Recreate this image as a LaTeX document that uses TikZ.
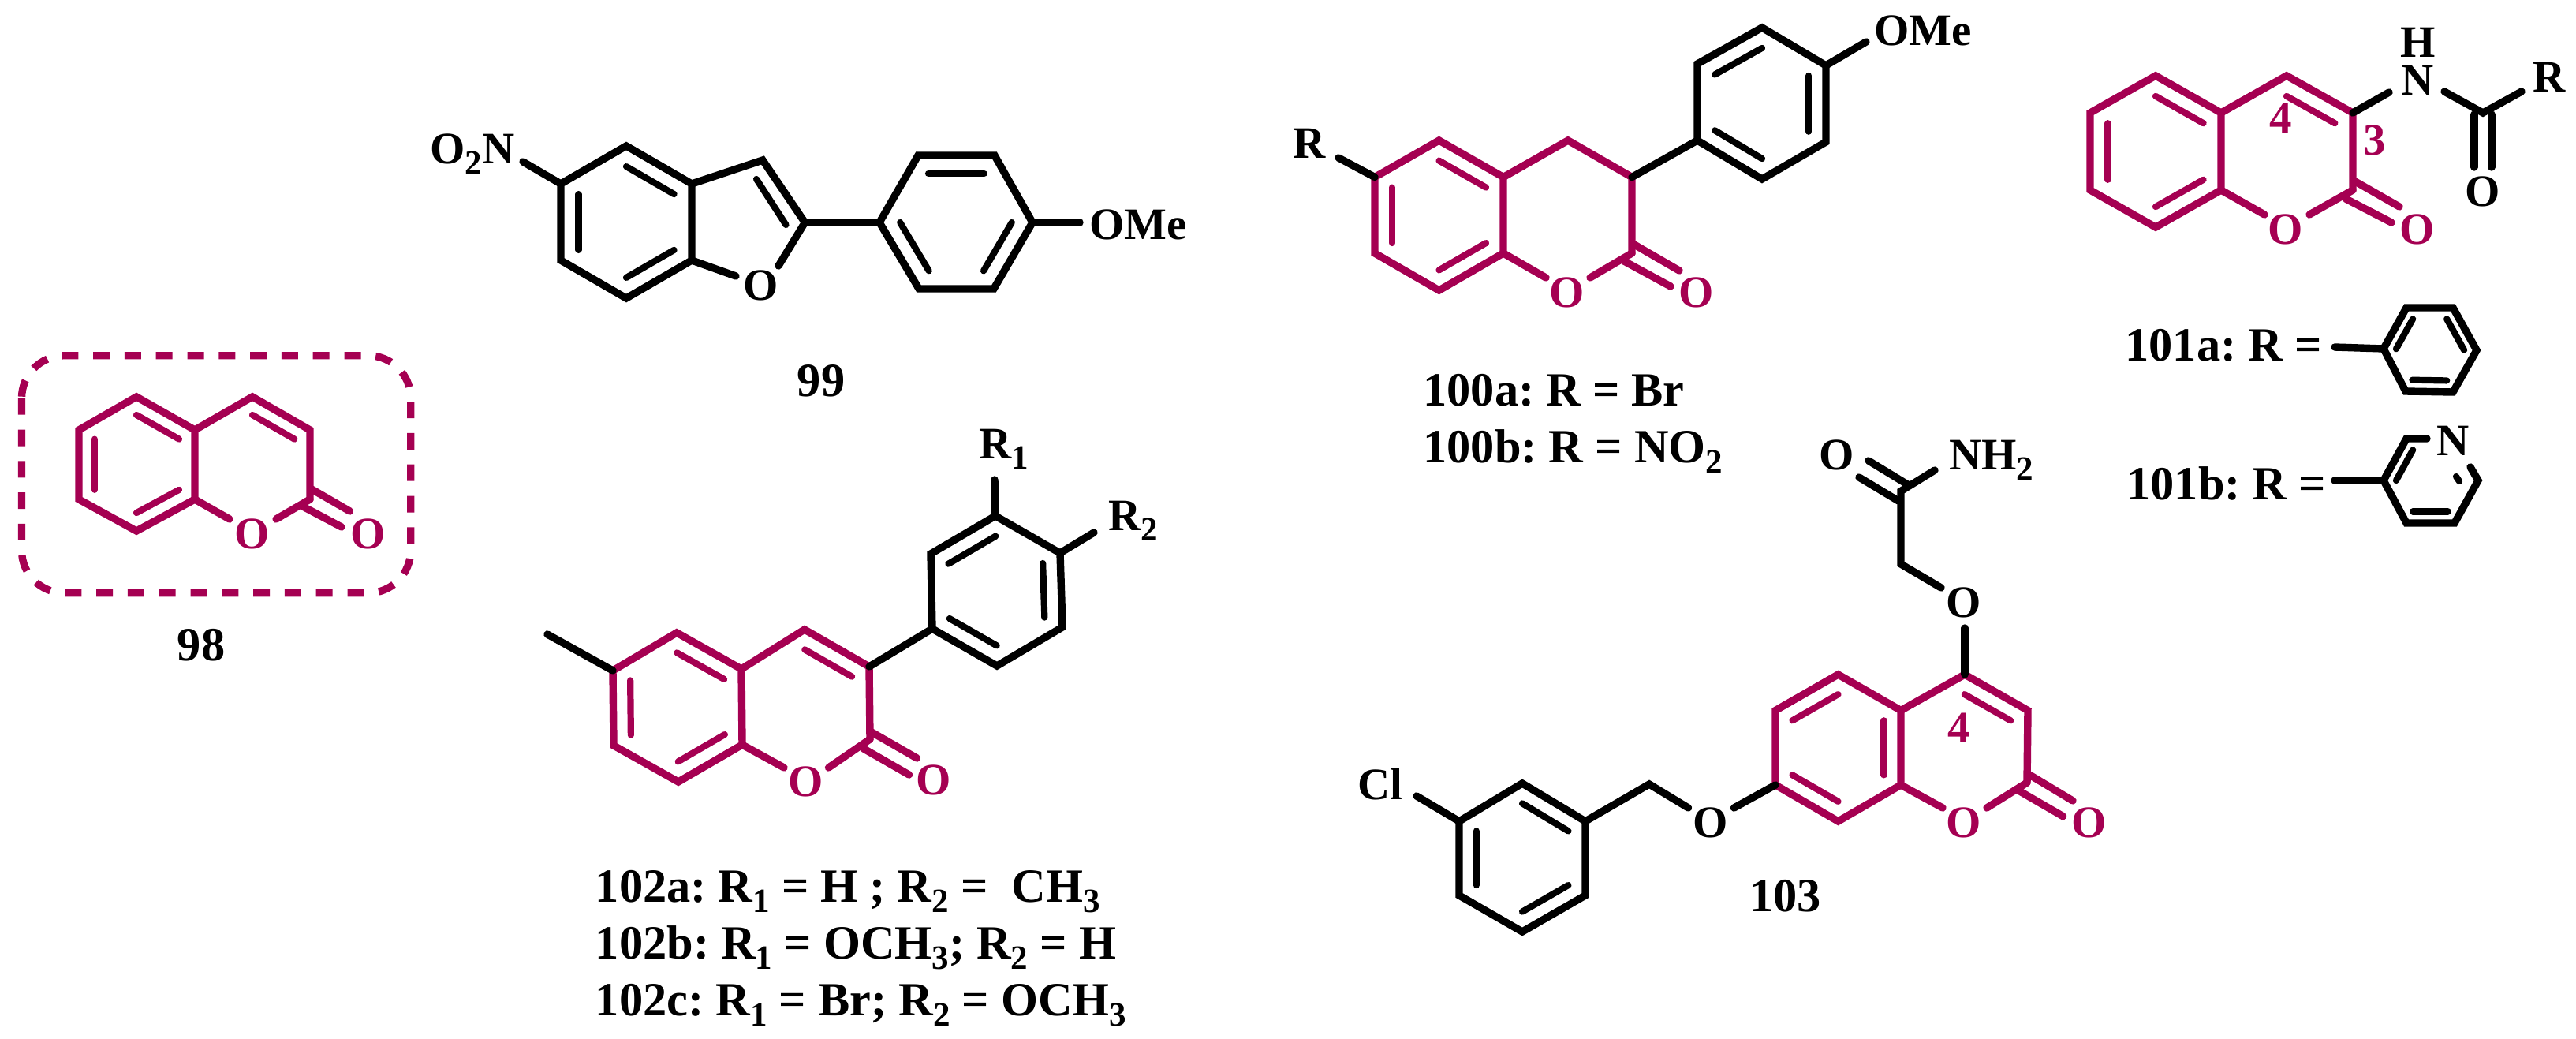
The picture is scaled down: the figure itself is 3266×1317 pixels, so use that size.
\documentclass[tikz,border=0pt]{standalone}
\usepackage{fontspec}
\setmainfont{Liberation Serif}[BoldFont={Liberation Serif Bold}]
\usetikzlibrary{calc}
\definecolor{coum}{HTML}{A50052}
\newcommand\CC[3]{\coordinate (#1) at (#2,#3);}
\newcommand\inn[3]{\draw[innerb] ($(#1)!.27!(#3)$) -- ($(#2)!.27!(#3)$);}
\newcommand\sbs[1]{\raisebox{-6.5pt}{\fontsize{21.5}{21.5}\selectfont #1}}
\frenchspacing
\tikzset{
  x=0.5pt,y=-0.5pt,
  bondl/.style={line width=4.7pt,line cap=round,line join=miter},
  innerb/.style={line width=4.1pt,line cap=round},
  atom/.style={inner sep=0pt,font=\fontsize{28.5}{28.5}\selectfont\bfseries,anchor=center},
  lab/.style={inner sep=0pt,font=\frenchspacing\fontsize{30.2}{30.2}\selectfont\bfseries,anchor=base west},
}
\begin{document}
\begin{tikzpicture}
\useasboundingbox (0,0) rectangle (3266,1317);
% ---------- 98
\begin{scope}[coum,bondl]
\draw[line width=4.7pt,line cap=butt,dash pattern=on 10.5pt off 9.4pt,rounded corners=27pt] (27.5,450.7) rectangle (520.7,751.7);
\CC{Aa}{173}{503}\CC{Ab}{247}{545}\CC{Ac}{247}{633}\CC{Ad}{173}{673}\CC{Ae}{100}{633}\CC{Af}{100}{545}
\CC{Ag}{320}{503}\CC{Ah}{393}{545}\CC{Ai}{393}{633}
\CC{Aq}{173}{588}\CC{Ar}{320}{588}
\node[atom] (AO1) at (320,677) {O};
\node[atom] (AO2) at (467,677) {O};
\CC{Aj}{291}{658}\CC{Ak}{350}{658}
\draw (Aa)--(Ab)--(Ac)--(Ad)--(Ae)--(Af)--cycle;
\draw (Ab)--(Ag)--(Ah)--(Ai);
\draw (Ac)--(Aj);\draw (Ak)--(Ai);
\inn{Aa}{Ab}{Aq}\inn{Ae}{Af}{Aq}\inn{Ac}{Ad}{Aq}\inn{Ag}{Ah}{Ar}
\CC{Am}{395}{620}\CC{An}{443.5}{648}\CC{Ao}{384}{642}\CC{Ap}{433}{668}
\draw (Am)--(An);\draw (Ao)--(Ap);
\end{scope}
\node[atom] (L98) at (255,818) {\fontsize{30.2}{30.2}\selectfont 98};
% ---------- 99
\begin{scope}[bondl]
\CC{Ba}{794}{185}\CC{Bb}{877}{233}\CC{Bc}{877}{330}\CC{Bd}{794}{378}\CC{Be}{711}{330}\CC{Bf}{711}{233}
\CC{Bg}{967}{203}\CC{Bh}{1020.5}{282}\CC{Bq}{794}{281.5}\CC{Br}{945}{280}
\node[atom] (BO) at (965,362) {O};
\CC{Bj}{933}{350}\CC{Bk}{987}{337}\CC{Bn}{663}{205}
\draw (Ba)--(Bb)--(Bc)--(Bd)--(Be)--(Bf)--cycle;
\draw (Bb)--(Bg)--(Bh)--(Bk);\draw (Bc)--(Bj);\draw (Bf)--(Bn);
\inn{Ba}{Bb}{Bq}\inn{Be}{Bf}{Bq}\inn{Bc}{Bd}{Bq}
\CC{Bs}{959}{227}\CC{Bt}{996.5}{285}\draw[innerb] (Bs)--(Bt);
\CC{Bu}{1115}{282}\CC{Bv}{1164}{197}\CC{Bw}{1261}{197}\CC{Bx}{1309}{282}\CC{By}{1260}{366}\CC{Bz}{1165}{366}\CC{Bp}{1212}{282}
\draw (Bh)--(Bu);
\draw (Bu)--(Bv)--(Bw)--(Bx)--(By)--(Bz)--cycle;
\inn{Bv}{Bw}{Bp}\inn{Bx}{By}{Bp}\inn{Bz}{Bu}{Bp}
\CC{Bo}{1369}{282}\draw (Bx)--(Bo);
\end{scope}
\node[lab] (BNO) at (545,207) {\fontsize{28.5}{28.5}\selectfont O\sbs{2}N};
\node[lab] (BOMe) at (1381,303) {\fontsize{28.5}{28.5}\selectfont OMe};
\node[atom] (L99) at (1041,483) {\fontsize{30.2}{30.2}\selectfont 99};
% ---------- 100
\begin{scope}[coum,bondl]
\CC{Ca}{1824.5}{178}\CC{Cb}{1906}{224.5}\CC{Cc}{1906}{321}\CC{Cd}{1824.5}{368}\CC{Ce}{1743}{321}\CC{Cf}{1743}{224.5}
\CC{Cg}{1988}{178}\CC{Ch}{2069}{224.5}\CC{Ci}{2069}{321}\CC{Cq}{1824.5}{273}
\node[atom] (CO1) at (1987,371) {O};
\node[atom] (CO2) at (2151,371) {O};
\CC{Cj}{1960}{352}\CC{Ck}{2016}{352}
\draw (Ca)--(Cb)--(Cc)--(Cd)--(Ce)--(Cf)--cycle;
\draw (Cb)--(Cg)--(Ch)--(Ci);\draw (Cc)--(Cj);\draw (Ck)--(Ci);
\inn{Ca}{Cb}{Cq}\inn{Ce}{Cf}{Cq}\inn{Cc}{Cd}{Cq}
\CC{Cm}{2072}{310}\CC{Cn}{2129}{343}\CC{Co}{2059}{331}\CC{Cp}{2118}{363}
\draw (Cm)--(Cn);\draw (Co)--(Cp);
\end{scope}
\begin{scope}[bondl]
\CC{Cr}{1697}{200}\draw (Cf)--(Cr);
\CC{Cs}{2152}{178}\CC{Ct}{2152}{81}\CC{Cu}{2234}{35}\CC{Cv}{2315}{83}\CC{Cw}{2315}{180}\CC{Cx}{2234}{227}\CC{Cy}{2234}{131}
\draw (Ch)--(Cs);
\draw (Cs)--(Ct)--(Cu)--(Cv)--(Cw)--(Cx)--cycle;
\inn{Ct}{Cu}{Cy}\inn{Cv}{Cw}{Cy}\inn{Cx}{Cs}{Cy}
\CC{Cz}{2366}{53}\draw (Cv)--(Cz);
\end{scope}
\node[atom] (CR) at (1660,182) {R};
\node[lab] (COMe) at (2376,57) {\fontsize{28.5}{28.5}\selectfont OMe};
\node[lab] (L100a) at (1804,514) {100a: R = Br};
\node[lab] (L100b) at (1804,586) {100b: R = NO\sbs{2}};
% ---------- 101
\begin{scope}[coum,bondl]
\CC{Da}{2733}{96}\CC{Db}{2816}{143}\CC{Dc}{2816}{241}\CC{Dd}{2733}{288}\CC{De}{2650}{241}\CC{Df}{2650}{143}
\CC{Dg}{2899}{96}\CC{Dh}{2983}{143}\CC{Di}{2983}{241}\CC{Dq}{2733}{192}\CC{Dr}{2899}{192}
\node[atom] (DO1) at (2898,291) {O};
\node[atom] (DO2) at (3065,291) {O};
\CC{Dj}{2871}{272}\CC{Dk}{2928}{272}
\draw (Da)--(Db)--(Dc)--(Dd)--(De)--(Df)--cycle;
\draw (Db)--(Dg)--(Dh)--(Di);\draw (Dc)--(Dj);\draw (Dk)--(Di);
\inn{Da}{Db}{Dq}\inn{De}{Df}{Dq}\inn{Dc}{Dd}{Dq}\inn{Dg}{Dh}{Dr}
\CC{Dm}{2986}{230}\CC{Dn}{3042}{262}\CC{Do}{2974}{252}\CC{Dp}{3032}{282}
\draw (Dm)--(Dn);\draw (Do)--(Dp);
\node[atom] (D4) at (2892,150) {4};
\node[atom] (D3) at (3011,178) {3};
\end{scope}
\begin{scope}[bondl]
\CC{Ds}{3029}{117}\draw (Dh)--(Ds);
\CC{Dt}{3099}{116}\CC{Du}{3148}{143}\CC{Dv}{3197}{116}\draw (Dt)--(Du)--(Dv);
\CC{Dw}{3137}{145}\CC{Dx}{3137}{212}\CC{Dy}{3159}{145}\CC{Dz}{3159}{212}
\draw (Dw)--(Dx);\draw (Dy)--(Dz);
\end{scope}
\node[atom] (DN) at (3065,102) {N};
\node[atom] (DH) at (3066,54) {H};
\node[atom] (DR) at (3232,98) {R};
\node[atom] (DO3) at (3148,243) {O};
\node[lab] (L101a) at (2694,457.5) {101a: R =};
\node[lab] (L101b) at (2696,633) {101b: R =};
\begin{scope}[bondl]
\CC{Ea}{3022}{442}\CC{Eb}{3051}{390}\CC{Ec}{3110}{390}\CC{Ed}{3140}{444}\CC{Ee}{3110}{497}\CC{Ef}{3050}{496}\CC{Eg}{2960}{440}\CC{Eq}{3081}{443}
\draw (Eg)--(Ea);
\draw (Ea)--(Eb)--(Ec)--(Ed)--(Ee)--(Ef)--cycle;
\inn{Ea}{Eb}{Eq}\inn{Ec}{Ed}{Eq}\inn{Ee}{Ef}{Eq}
\CC{Fa}{3022}{609}\CC{Fb}{3051}{556}\CC{Fc}{3077}{556}\CC{Fd}{3132}{592}\CC{Fe}{3142}{609}\CC{Ff}{3112}{663}\CC{Fg}{3051}{663}\CC{Fh}{2960}{609}\CC{Fq}{3081}{609}
\draw (Fh)--(Fa);
\draw (Fc)--(Fb)--(Fa)--(Fg)--(Ff)--(Fe)--(Fd);
\inn{Fa}{Fb}{Fq}\inn{Ff}{Fg}{Fq}
\CC{Fi}{3114}{604}\CC{Fj}{3118}{610}\draw[innerb] (Fi)--(Fj);
\end{scope}
\node[atom] (FN) at (3110,559) {N};
% ---------- 102
\begin{scope}[coum,bondl]
\CC{Ga}{858}{802}\CC{Gb}{940}{848}\CC{Gc}{941}{944}\CC{Gd}{860}{991}\CC{Ge}{778}{945}\CC{Gf}{777}{850}
\CC{Gg}{1020}{798}\CC{Gh}{1102}{845}\CC{Gi}{1103}{937}\CC{Gq}{859}{896}\CC{Gr}{1021}{892}
\node[atom] (GO1) at (1022,991) {O};
\node[atom] (GO2) at (1184,989) {O};
\CC{Gj}{994}{973}\CC{Gk}{1050.5}{973}
\draw (Ga)--(Gb)--(Gc)--(Gd)--(Ge)--(Gf)--cycle;
\draw (Gb)--(Gg)--(Gh)--(Gi);\draw (Gc)--(Gj);\draw (Gk)--(Gi);
\inn{Ga}{Gb}{Gq}\inn{Ge}{Gf}{Gq}\inn{Gc}{Gd}{Gq}\inn{Gg}{Gh}{Gr}
\CC{Gm}{1105}{928}\CC{Gn}{1162.5}{961}\CC{Go}{1095}{949}\CC{Gp}{1152.5}{982}
\draw (Gm)--(Gn);\draw (Go)--(Gp);
\end{scope}
\begin{scope}[bondl]
\CC{Gs}{694}{804}\draw (Gf)--(Gs);
\CC{Ht}{1182}{797}\CC{Hu}{1180}{702}\CC{Hv}{1262}{654}\CC{Hw}{1344}{701}\CC{Hx}{1347}{795}\CC{Hy}{1264}{844}\CC{Hz}{1263}{749}
\draw (Gh)--(Ht);
\draw (Ht)--(Hu)--(Hv)--(Hw)--(Hx)--(Hy)--cycle;
\inn{Hu}{Hv}{Hz}\inn{Hw}{Hx}{Hz}\inn{Hy}{Ht}{Hz}
\CC{Hm}{1261}{608}\draw (Hv)--(Hm);
\CC{Hn}{1387}{675}\draw (Hw)--(Hn);
\end{scope}
\node[lab] (HR1) at (1241,581) {\fontsize{28.5}{28.5}\selectfont R\sbs{1}};
\node[lab] (HR2) at (1405,672) {\fontsize{28.5}{28.5}\selectfont R\sbs{2}};
\node[lab] (L102a) at (754.5,1143.5) {102a: R\sbs{1} = H ; R\sbs{2} =\ \ CH\sbs{3}};
\node[lab] (L102b) at (754.5,1215.5) {102b: R\sbs{1} = OCH\sbs{3}; R\sbs{2} = H};
\node[lab] (L102c) at (754.5,1287) {102c: R\sbs{1} = Br; R\sbs{2} = OCH\sbs{3}};
% ---------- 103
\begin{scope}[coum,bondl]
\CC{Ia}{2330.5}{855}\CC{Ib}{2410}{900.5}\CC{Ic}{2410}{995}\CC{Id}{2330.5}{1041}\CC{Ie}{2251}{995}\CC{If}{2251}{900.5}
\CC{Ig}{2491}{855}\CC{Ih}{2571}{900.5}\CC{Ii}{2570}{992}\CC{Iq}{2330.5}{948}\CC{Ir}{2490}{948}
\node[atom] (IO1) at (2490,1043) {O};
\node[atom] (IO2) at (2649,1043) {O};
\CC{Ij}{2463}{1024}\CC{Ik}{2519}{1024}
\draw (Ia)--(Ib)--(Ic)--(Id)--(Ie)--(If)--cycle;
\draw (Ib)--(Ig)--(Ih)--(Ii);\draw (Ic)--(Ij);\draw (Ik)--(Ii);
\inn{If}{Ia}{Iq}\inn{Ib}{Ic}{Iq}\inn{Id}{Ie}{Iq}\inn{Ig}{Ih}{Ir}
\CC{Im}{2573}{982}\CC{In}{2628}{1015}\CC{Io}{2560}{1002.5}\CC{Ip}{2615.6}{1034.7}
\draw (Im)--(In);\draw (Io)--(Ip);
\node[atom] (I4) at (2483.5,922.5) {4};
\end{scope}
\begin{scope}[bondl]
\node[atom] (JO1) at (2490,764) {O};
\CC{Ja}{2491}{796}\draw (Ig)--(Ja);
\CC{Jb}{2461}{745}\CC{Jc}{2410}{715}\CC{Jd}{2410}{622.5}\CC{Je}{2453}{596}
\draw (Jb)--(Jc)--(Jd)--(Je);
\CC{Jf}{2420}{615}\CC{Jg}{2369}{584}\CC{Jh}{2407}{635}\CC{Ji}{2357}{605}
\draw (Jf)--(Jg);\draw (Jh)--(Ji);
\node[atom] (JO2) at (2329,576.5) {O};
\CC{Jj}{2198.5}{1024}\draw (Ie)--(Jj);
\node[atom] (JO3) at (2169,1043) {O};
\CC{Jk}{2140.5}{1024}\CC{Jl}{2091}{994}
\CC{Ka}{2010}{1041}\CC{Kb}{1930}{993}\CC{Kc}{1850}{1041}\CC{Kd}{1850}{1135}\CC{Ke}{1930}{1181}\CC{Kf}{2010}{1135}\CC{Kq}{1930}{1087}
\draw (Jk)--(Jl)--(Ka);
\draw (Ka)--(Kb)--(Kc)--(Kd)--(Ke)--(Kf)--cycle;
\inn{Kb}{Ka}{Kq}\inn{Kc}{Kd}{Kq}\inn{Ke}{Kf}{Kq}
\CC{Kg}{1796}{1009}\draw (Kc)--(Kg);
\end{scope}
\node[lab] (JNH) at (2471,595) {\fontsize{28.5}{28.5}\selectfont NH\sbs{2}};
\node[lab] (KCl) at (1721,1013) {\fontsize{28.5}{28.5}\selectfont Cl};
\node[lab] (L103) at (2218,1155.5) {103};
\end{tikzpicture}
\end{document}
